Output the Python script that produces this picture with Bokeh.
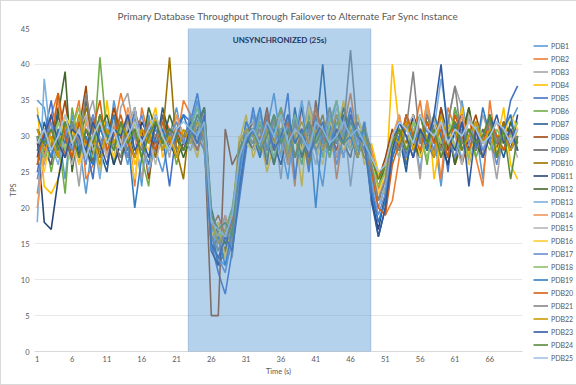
from bokeh.plotting import figure
from bokeh.models import BoxAnnotation, Legend, LegendItem, FixedTicker, Range1d, Label
from bokeh.embed import file_html
from bokeh.resources import INLINE

title_text = "Primary Database Throughput Through Failover to Alternate Far Sync Instance"
x_tick_values = [1, 6, 11, 16, 21, 26, 31, 36, 41, 46, 51, 56, 61, 66]
y_tick_values = [0, 5, 10, 15, 20, 25, 30, 35, 40, 45]
unsync_start = 22.7
unsync_end = 48.9
unsync_label = "UNSYNCHRONIZED (25s)"

series_names = ["PDB1", "PDB2", "PDB3", "PDB4", "PDB5", "PDB6", "PDB7", "PDB8", "PDB9", "PDB10",
                "PDB11", "PDB12", "PDB13", "PDB14", "PDB15", "PDB16", "PDB17", "PDB18", "PDB19",
                "PDB20", "PDB21", "PDB22", "PDB23", "PDB24", "PDB25"]

series_colors = ["#5B9BD5", "#ED7D31", "#A5A5A5", "#FFC000", "#4472C4", "#70AD47", "#255E91",
                 "#9E480E", "#636363", "#997300", "#264478", "#43682B", "#7CAFDD", "#F1975A",
                 "#B7B7B7", "#FFCD33", "#698ED0", "#8CC168", "#327DC2", "#D26012", "#848484",
                 "#CC9A00", "#335AA1", "#5A8A39", "#A3C4E6"]

pdb1 = [35, 34, 28, 31, 24, 33, 29, 22, 30, 32, 27, 35, 30, 26, 31, 23, 33, 28, 25, 30, 34, 29,
        31, 35, 28, 16, 13, 12, 15, 22, 30,
        33, 27, 31, 36, 29, 24, 32, 30, 34, 28, 23, 31, 35, 29, 33, 27, 30,
        24, 20, 23,
        29, 33, 27, 31, 25, 34, 30, 23, 32, 26, 35, 29, 31, 24, 33, 30, 28, 32, 34]
pdb2 = [22, 29, 33, 36, 27, 31, 35, 24, 26, 33, 29, 31, 36, 32, 23, 34, 30, 27, 33, 31, 29, 35,
        33, 30, 34, 18, 14, 17, 19, 24, 31,
        28, 33, 30, 26, 34, 31, 23, 35, 27, 32, 30, 33, 24, 31, 36, 29, 32,
        27, 23, 19,
        21, 27, 33, 30, 35, 28, 32, 24, 34, 31, 29, 33, 27, 23, 35, 28, 32, 29, 31]
pdb3 = [29, 26, 31, 28, 33, 30, 23, 32, 35, 29, 31, 26, 34, 36, 30, 24, 32, 29, 31, 27, 33, 30,
        29, 32, 30, 17, 15, 19, 13, 26, 29,
        31, 34, 28, 32, 24, 33, 27, 29, 35, 31, 28, 34, 30, 33, 23, 31, 28,
        26, 22, 25,
        30, 28, 33, 31, 24, 35, 30, 27, 32, 37, 34, 29, 28, 33, 30, 24, 31, 29, 32]
pdb4 = [34, 23, 22, 24, 30, 27, 33, 29, 31, 25, 35, 28, 30, 33, 26, 29, 31, 34, 27, 30, 32, 28,
        30, 27, 33, 19, 16, 13, 18, 29, 33,
        27, 30, 25, 29, 33, 28, 31, 23, 34, 29, 32, 27, 30, 35, 28, 31, 26,
        29, 25, 22,
        40, 31, 26, 33, 29, 35, 24, 30, 32, 28, 34, 27, 31, 30, 33, 29, 34, 26, 24]
pdb5 = [25, 30, 35, 28, 32, 26, 31, 29, 24, 33, 30, 27, 31, 28, 34, 29, 26, 32, 30, 23, 31, 33,
        32, 36, 30, 15, 11, 8, 14, 21, 28,
        34, 29, 32, 26, 30, 36, 24, 31, 25, 33, 29, 32, 27, 30, 34, 28, 31,
        23, 18, 21,
        28, 31, 26, 30, 33, 29, 27, 32, 25, 34, 30, 28, 31, 29, 33, 27, 30, 35, 37]
pdb6 = [28, 31, 25, 30, 22, 34, 29, 33, 27, 41, 30, 26, 32, 29, 31, 27, 23, 33, 28, 31, 26, 30,
        28, 31, 29, 18, 15, 17, 20, 27, 31,
        29, 32, 27, 31, 34, 28, 30, 26, 33, 29, 31, 27, 32, 30, 28, 33, 29,
        25, 22, 26,
        30, 27, 32, 29, 31, 26, 33, 30, 28, 34, 29, 31, 27, 30, 32, 28, 31, 29, 30]
pdb7 = [27, 32, 28, 34, 30, 26, 31, 29, 33, 28, 25, 32, 30, 27, 33, 29, 31, 28, 34, 30, 27, 29,
        30, 33, 31, 17, 12, 14, 19, 26, 32,
        30, 27, 33, 29, 31, 26, 34, 28, 32, 30, 40, 29, 31, 27, 33, 28, 30,
        22, 16, 20,
        27, 30, 25, 33, 29, 31, 27, 34, 30, 28, 32, 26, 31, 29, 33, 30, 27, 31, 28]
pdb8 = [29, 27, 33, 30, 35, 28, 31, 37, 26, 32, 29, 34, 30, 27, 33, 31, 24, 30, 32, 29, 31, 28,
        31, 29, 30, 5, 5, 31, 26, 28, 30,
        32, 29, 34, 28, 31, 27, 33, 30, 26, 35, 29, 31, 28, 32, 30, 27, 31,
        28, 24, 27,
        31, 28, 33, 30, 27, 32, 29, 34, 28, 31, 26, 30, 33, 29, 31, 28, 32, 30, 29]
pdb9 = [31, 28, 26, 33, 29, 31, 27, 35, 30, 28, 32, 29, 26, 31, 34, 28, 30, 27, 33, 29, 31, 30,
        29, 31, 34, 16, 18, 15, 17, 25, 30,
        28, 31, 26, 33, 30, 29, 32, 27, 31, 34, 28, 30, 33, 29, 27, 32, 30,
        27, 21, 24,
        29, 32, 30, 27, 31, 28, 33, 29, 26, 32, 30, 34, 28, 31, 29, 27, 32, 30, 28]
pdb10 = [26, 31, 29, 27, 32, 30, 28, 34, 31, 27, 29, 33, 30, 28, 32, 29, 31, 27, 30, 41, 28, 24,
         33, 30, 28, 19, 17, 14, 16, 28, 31,
         31, 28, 30, 33, 27, 32, 29, 31, 26, 30, 33, 28, 31, 29, 32, 30, 27,
         26, 23, 25,
         28, 31, 29, 33, 27, 30, 32, 28, 31, 26, 29, 33, 30, 27, 31, 29, 32, 28, 30]
pdb11 = [30, 18, 17, 24, 29, 32, 27, 31, 28, 33, 30, 26, 29, 31, 27, 32, 30, 28, 31, 29, 27, 30,
         32, 29, 31, 14, 12, 16, 18, 23, 29,
         31, 28, 33, 29, 26, 31, 30, 34, 28, 32, 27, 30, 29, 33, 31, 28, 30,
         21, 17, 22,
         29, 31, 27, 33, 30, 28, 32, 29, 26, 31, 33, 28, 30, 27, 32, 29, 31, 28, 33]
pdb12 = [31, 29, 27, 33, 39, 25, 32, 28, 26, 31, 33, 29, 27, 30, 32, 28, 34, 31, 29, 33, 30, 27,
         30, 32, 34, 20, 16, 15, 18, 27, 30,
         28, 32, 30, 26, 31, 29, 33, 27, 30, 32, 28, 31, 29, 34, 30, 27, 31,
         25, 23, 26,
         30, 28, 32, 29, 27, 33, 30, 28, 31, 26, 30, 34, 29, 27, 31, 30, 28, 32, 29]
pdb13 = [18, 38, 29, 26, 31, 28, 33, 27, 30, 24, 32, 29, 31, 27, 33, 30, 25, 29, 32, 28, 31, 29,
         30, 33, 29, 17, 14, 16, 19, 25, 30,
         30, 33, 29, 31, 27, 32, 30, 35, 28, 31, 29, 33, 30, 27, 32, 29, 31,
         24, 20, 23,
         28, 32, 30, 27, 33, 29, 31, 38, 32, 30, 27, 29, 31, 27, 32, 30, 28, 31, 29]
pdb14 = [20, 27, 31, 35, 28, 30, 26, 32, 29, 33, 27, 31, 28, 34, 30, 27, 32, 29, 31, 28, 33, 30,
         31, 28, 32, 18, 16, 19, 15, 26, 31,
         29, 31, 28, 33, 30, 26, 32, 29, 31, 34, 28, 30, 27, 32, 29, 31, 30,
         28, 24, 26,
         30, 33, 28, 31, 29, 35, 27, 32, 30, 28, 33, 29, 31, 27, 30, 32, 29, 31, 28]
pdb15 = [28, 30, 27, 32, 29, 26, 31, 33, 28, 30, 27, 32, 29, 31, 34, 28, 30, 26, 31, 29, 32, 30,
         28, 30, 33, 19, 15, 18, 16, 27, 31,
         32, 28, 30, 27, 33, 29, 31, 28, 30, 26, 32, 29, 34, 31, 28, 30, 32,
         26, 22, 24,
         29, 27, 31, 33, 28, 30, 32, 27, 31, 29, 26, 33, 30, 28, 32, 29, 31, 30, 27]
pdb16 = [27, 25, 30, 28, 33, 31, 26, 29, 32, 28, 30, 27, 31, 29, 24, 30, 28, 33, 29, 31, 27, 30,
         29, 32, 30, 16, 18, 13, 17, 30, 29,
         28, 31, 29, 33, 30, 27, 31, 28, 34, 29, 26, 32, 30, 28, 31, 33, 29,
         27, 22, 25,
         29, 31, 28, 32, 27, 30, 33, 29, 31, 28, 30, 26, 32, 29, 31, 28, 30, 33, 31]
pdb17 = [24, 29, 32, 27, 31, 28, 30, 26, 33, 29, 31, 28, 32, 27, 30, 33, 29, 31, 28, 30, 32, 29,
         33, 30, 28, 15, 13, 11, 16, 24, 30,
         30, 28, 32, 29, 31, 27, 33, 30, 28, 32, 29, 31, 26, 30, 33, 28, 31,
         23, 19, 22,
         28, 30, 27, 32, 29, 31, 28, 33, 30, 27, 31, 29, 32, 28, 30, 26, 31, 29, 30]
pdb18 = [30, 27, 29, 32, 28, 31, 34, 29, 27, 33, 30, 28, 31, 29, 32, 27, 30, 33, 29, 28, 31, 30,
         31, 34, 29, 18, 16, 17, 15, 26, 31,
         29, 32, 30, 27, 31, 28, 33, 29, 31, 30, 27, 32, 35, 29, 31, 28, 30,
         26, 23, 25,
         29, 31, 28, 32, 30, 27, 31, 29, 33, 28, 30, 27, 32, 30, 28, 31, 29, 30, 32]
pdb19 = [33, 30, 27, 31, 29, 32, 28, 30, 26, 31, 29, 33, 28, 30, 20, 27, 32, 29, 31, 28, 30, 33,
         30, 28, 32, 14, 16, 12, 17, 25, 32,
         30, 34, 28, 31, 29, 33, 27, 30, 32, 20, 31, 28, 33, 29, 30, 27, 32,
         22, 18, 21,
         27, 30, 32, 29, 31, 28, 33, 30, 27, 32, 29, 31, 28, 34, 30, 29, 31, 33, 28]
pdb20 = [26, 31, 28, 36, 30, 27, 32, 29, 31, 35, 28, 30, 33, 29, 27, 31, 30, 28, 32, 29, 31, 30,
         30, 28, 31, 17, 19, 16, 18, 27, 30,
         31, 29, 33, 28, 30, 32, 27, 31, 29, 34, 30, 28, 31, 29, 33, 30, 28,
         25, 20, 19,
         26, 29, 33, 30, 28, 32, 29, 31, 27, 33, 30, 28, 31, 29, 32, 30, 28, 31, 29]
pdb21 = [29, 31, 28, 30, 27, 32, 29, 36, 30, 28, 31, 29, 27, 33, 30, 28, 32, 30, 29, 31, 28, 30,
         31, 29, 30, 16, 14, 17, 15, 28, 30,
         29, 31, 28, 33, 30, 27, 32, 29, 31, 28, 30, 34, 29, 31, 42, 30, 28,
         26, 21, 24,
         30, 28, 31, 39, 29, 33, 30, 28, 32, 37, 29, 31, 28, 30, 32, 29, 31, 28, 30]
pdb22 = [31, 28, 30, 27, 32, 29, 33, 28, 30, 26, 31, 29, 32, 30, 27, 31, 29, 33, 28, 30, 27, 31,
         29, 32, 30, 18, 15, 17, 19, 29, 31,
         30, 28, 31, 29, 33, 27, 30, 32, 29, 31, 28, 30, 33, 29, 31, 27, 30,
         27, 24, 26,
         30, 29, 32, 28, 31, 30, 27, 33, 29, 31, 28, 30, 32, 29, 31, 27, 30, 28, 31]
pdb23 = [28, 30, 33, 29, 27, 31, 30, 28, 32, 29, 26, 31, 30, 33, 28, 30, 27, 32, 29, 31, 30, 28,
         31, 29, 33, 15, 13, 16, 14, 22, 29,
         31, 29, 32, 28, 30, 33, 29, 31, 27, 30, 32, 28, 31, 29, 33, 30, 29,
         21, 16, 20,
         28, 32, 30, 27, 31, 29, 33, 40, 30, 28, 32, 23, 31, 27, 30, 33, 29, 31, 28]
pdb24 = [30, 29, 31, 28, 32, 30, 27, 31, 29, 33, 30, 28, 32, 29, 31, 27, 30, 32, 29, 31, 30, 28,
         30, 33, 31, 19, 17, 18, 16, 28, 30,
         31, 28, 30, 33, 29, 31, 27, 30, 32, 29, 31, 28, 30, 29, 32, 30, 31,
         27, 24, 26,
         29, 31, 28, 30, 33, 29, 31, 27, 30, 32, 28, 31, 29, 30, 33, 27, 31, 24, 30]
pdb25 = [29, 31, 28, 30, 33, 29, 31, 27, 30, 32, 29, 31, 28, 30, 32, 29, 31, 33, 30, 28, 31, 32,
         31, 30, 32, 18, 17, 16, 19, 27, 30,
         31, 29, 32, 30, 33, 29, 31, 30, 28, 32, 31, 29, 30, 32, 30, 31, 29,
         27, 25, 26,
         30, 32, 31, 29, 33, 31, 30, 32, 29, 31, 30, 32, 31, 29, 30, 32, 31, 29, 31]

series_values = [pdb1, pdb2, pdb3, pdb4, pdb5, pdb6, pdb7, pdb8, pdb9, pdb10, pdb11, pdb12, pdb13,
                 pdb14, pdb15, pdb16, pdb17, pdb18, pdb19, pdb20, pdb21, pdb22, pdb23, pdb24, pdb25]

FONT = "Lato"
TXT = "#595959"

p = figure(frame_width=488, frame_height=323, output_backend="svg", toolbar_location=None,
           x_range=Range1d(0.6, 70.7), y_range=Range1d(0, 45),
           min_border_left=33, min_border_right=53, min_border_top=27, min_border_bottom=33)
p.styles = {"border": "1px solid #D9D9D9"}
p.outline_line_color = None
p.background_fill_color = "white"
p.border_fill_color = "white"

p.title.text = title_text
p.title.align = "left"
p.title.offset = 83
p.title.vertical_align = "middle"
p.title.text_font = FONT
p.title.text_font_size = "10px"
p.title.text_font_style = "normal"
p.title.text_color = TXT
p.title.standoff = 12

items = []
for name, color, ys in zip(series_names, series_colors, series_values):
    xs = list(range(1, len(ys) + 1))
    r = p.line(xs, ys, line_color=color, line_width=1.6)
    items.append(LegendItem(label=name, renderers=[r]))

box = BoxAnnotation(left=unsync_start, right=unsync_end, bottom=0, top=45,
                    fill_color="#5B9BD5", fill_alpha=0.45,
                    line_color="#4A7EBB", line_width=1.2)
p.add_layout(box)

lab = Label(x=(unsync_start + unsync_end) / 2, y=43.4, text=unsync_label,
            text_align="center", text_baseline="middle",
            text_font=FONT, text_font_size="8px", text_font_style="bold",
            text_color="#1F3864")
p.add_layout(lab)

p.xaxis.ticker = FixedTicker(ticks=x_tick_values)
p.yaxis.ticker = FixedTicker(ticks=y_tick_values)
p.xaxis.axis_label = "Time (s)"
p.yaxis.axis_label = "TPS"
for ax in (p.xaxis[0], p.yaxis[0]):
    ax.major_tick_line_color = None
    ax.minor_tick_line_color = None
    ax.major_tick_out = 0
    ax.major_tick_in = 0
    ax.minor_tick_out = 0
    ax.major_label_text_font = FONT
    ax.major_label_text_font_size = "7.5px"
    ax.major_label_text_color = TXT
    ax.axis_label_text_font = FONT
    ax.axis_label_text_font_size = "7.5px"
    ax.axis_label_text_font_style = "normal"
    ax.axis_label_text_color = TXT
p.xaxis.axis_line_color = "#D9D9D9"
p.yaxis.axis_line_color = None
p.xaxis.major_label_standoff = 4
p.yaxis.major_label_standoff = 5
p.xaxis.axis_label_standoff = 2
p.yaxis.axis_label_standoff = 0

p.xgrid.visible = False
p.ygrid.grid_line_color = "#CFCFCF"
p.ygrid.grid_line_dash = "1 1"

legend = Legend(items=items, location=(11, -11), margin=0, padding=0, spacing=4,
                glyph_width=15, glyph_height=9, label_height=9, label_standoff=3,
                label_text_font=FONT, label_text_font_size="7px", label_text_color=TXT,
                border_line_color=None, background_fill_alpha=0)
p.add_layout(legend, "right")

open("out.html", "w").write(file_html(p, INLINE))
